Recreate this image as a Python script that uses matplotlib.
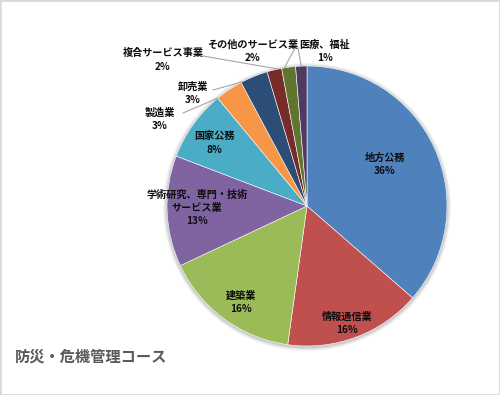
"""
Pie chart: 防災・危機管理コース 就職先の業種
"""

import matplotlib.pyplot as plt
import matplotlib.patches as mpatches
import numpy as np

plt.rcParams['font.family'] = ['Noto Sans CJK JP', 'DejaVu Sans']

# Data (clockwise from 12 o'clock)
industries = ['地方公務', '情報通信業', '建築業', '学術研究、専門・技術\nサービス業', '国家公務',
              '製造業', '卸売業', '複合サービス事業', 'その他のサービス業', '医療、福祉']
shares = [36.4, 15.8, 15.8, 12.8, 8.2, 3.2, 3.2, 1.7, 1.6, 1.3]

colors = ['#4F81BD', '#C0504D', '#9BBB59', '#8064A2', '#4BACC6',
          '#F79646', '#2C4D75', '#772C2A', '#5F7530', '#4D3B62']

W, H = 500, 395
cx, cy, r = 307, H - 206, 140

# label centre (pixels from top-left); leader line start and where it hits the wedge
label_pos = [(385, 164), (347, 323), (241, 302), (197, 208), (214, 143),
             (160, 119), (193, 93), (163, 60), (253, 51), (325, 51)]
leaders = {5: ((183, 113), 0.0), 6: ((213, 90), 0.05), 7: ((203, 56), 0.75),
           8: ((295, 48), 0.2), 9: ((298, 48), 0.5)}

fig = plt.figure(figsize=(5, 3.95), dpi=100)
ax = fig.add_axes([0, 0, 1, 1])

# soft shadow behind the pie
for k, a in enumerate([0.04, 0.05, 0.06, 0.07]):
    ax.add_patch(mpatches.Circle((cx, cy - 1), r + 4 - k, color='#000000', alpha=a,
                                 lw=0, zorder=0))

wedges, _ = ax.pie(shares, colors=colors, startangle=90, counterclock=False,
                   center=(cx, cy), radius=r,
                   wedgeprops=dict(edgecolor='white', linewidth=0.4))

for i, (name, v) in enumerate(zip(industries, shares)):
    x, y = label_pos[i]
    ax.text(x, H - y, f'{name}\n{round(v)}%', ha='center', va='center',
            fontsize=7.3, fontweight='bold', color='#0d0d0d', linespacing=1.4,
            zorder=5)

for i, ((sx, sy), frac) in leaders.items():
    w = wedges[i]
    ang = np.deg2rad(w.theta2 - frac * (w.theta2 - w.theta1))
    ex, ey = cx + r * np.cos(ang), cy + r * np.sin(ang)
    ax.plot([sx, ex], [H - sy, ey], color='#a6a6a6', lw=0.8, zorder=4)

ax.text(15, H - 357, '防災・危機管理コース', ha='left', va='center',
        fontsize=11, fontweight='bold', color='#595959')

ax.set_xlim(0, W)
ax.set_ylim(0, H)
ax.set_aspect('auto')
ax.axis('off')

# light frame round the picture
fig.patches.append(mpatches.Rectangle((0, 0), 1, 1, transform=fig.transFigure,
                                      fill=False, edgecolor='#d9d9d9', lw=2))

fig.savefig('out.png', dpi=100, facecolor='white')
